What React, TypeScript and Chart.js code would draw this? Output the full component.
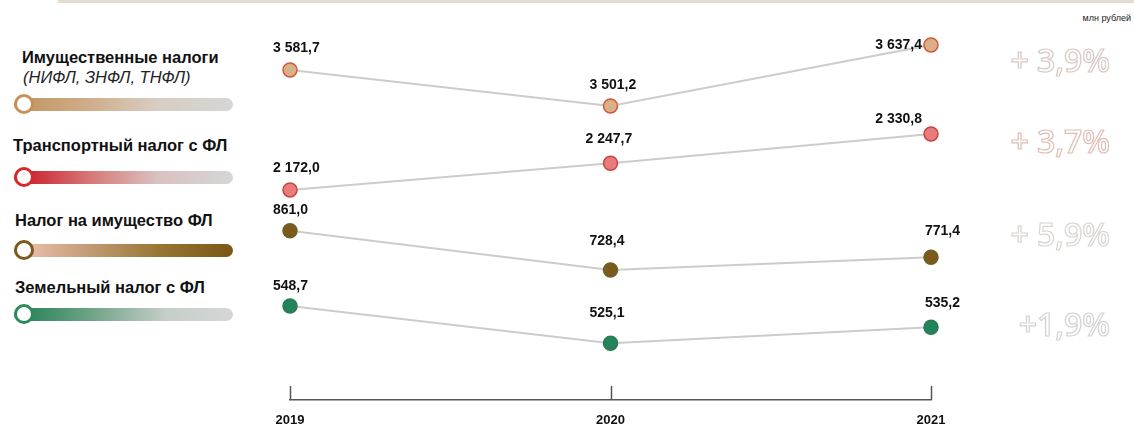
import React, { useEffect, useRef } from 'react';
import { Chart, registerables } from 'chart.js';

Chart.register(...registerables);

// ---------- data ----------
const years = ['2019', '2020', '2021'];
const seriesNames = [
  'Имущественные налоги',
  'Транспортный налог с ФЛ',
  'Налог на имущество ФЛ',
  'Земельный налог с ФЛ',
];
const seriesSubtitle = '(НИФЛ, ЗНФЛ, ТНФЛ)';
const propertyTaxes = [3581.7, 3501.2, 3637.4];
const transportTax = [2172.0, 2247.7, 2330.8];
const personalPropertyTax = [861.0, 728.4, 771.4];
const landTax = [548.7, 525.1, 535.2];
const growthLabels = ['+ 3,9%', '+ 3,7%', '+ 5,9%', '+1,9%'];
const unitLabel = 'млн рублей';

// ---------- styles ----------
const W = 1134;
const H = 427;
const pointFill = ['#d9b189', '#e77b7d', '#7b5a1c', '#23845a'];
const pointBorder = ['#d4573b', '#c9443f', '#6c6226', '#2b7a55'];
// hidden per-series value axes (each series lives in its own band)
const axisRanges = [
  { min: 2844.8, max: 3737.9 },
  { min: 1576.4, max: 2710.8 },
  { min: 289.8, max: 1639.3 },
  { min: 489.2, max: 742.3 },
];
// value-label placement relative to each point
const labelPlacement = [
  [{ dx: -17, dy: -22, a: 'left' }, { dx: -21, dy: -21, a: 'left' }, { dx: -9, dy: 0, a: 'right' }],
  [{ dx: -17, dy: -22, a: 'left' }, { dx: -25, dy: -24, a: 'left' }, { dx: -9, dy: -15, a: 'right' }],
  [{ dx: -17, dy: -21, a: 'left' }, { dx: -21, dy: -29, a: 'left' }, { dx: -6, dy: -26, a: 'left' }],
  [{ dx: -17, dy: -20, a: 'left' }, { dx: -21, dy: -30, a: 'left' }, { dx: -6, dy: -24, a: 'left' }],
];
const legendRows = [
  { textLeft: 22, textY: 58, subY: 78, barY: 104, ring: '#c39259',
    grad: 'linear-gradient(90deg, #c0935e 0%, #cfae8c 35%, #d8cdc2 65%, #d6d6d6 100%)' },
  { textLeft: 13, textY: 146, barY: 177, ring: '#d42a2e',
    grad: 'linear-gradient(90deg, #c8141f 0%, #d77878 35%, #d9c1c0 65%, #d6d6d6 100%)' },
  { textLeft: 15, textY: 221, barY: 250, ring: '#7a5a1e',
    grad: 'linear-gradient(90deg, #f2c4b6 0%, #c9a07c 30%, #9a7636 65%, #7a5716 100%)' },
  { textLeft: 15, textY: 288, barY: 314, ring: '#2d8a5c',
    grad: 'linear-gradient(90deg, #1f7f51 0%, #6fa386 35%, #c6cfca 70%, #d6d6d6 100%)' },
];
const growthStyle = [
  { y: 61, stroke: '#d6c8c2' },
  { y: 142, stroke: '#dfbdb4' },
  { y: 235, stroke: '#d8d4d0' },
  { y: 325, stroke: '#d2d2d2' },
];
const FONT = "Arial, 'Liberation Sans', sans-serif";

const fmt = (v: number) => {
  const [i, d] = v.toFixed(1).split('.');
  return i.replace(/\B(?=(\d{3})+(?!\d))/g, ' ') + ',' + d;
};

const valueLabelPlugin = {
  id: 'valueLabels',
  afterDatasetsDraw(chart: any) {
    const ctx = chart.ctx;
    ctx.save();
    ctx.font = `bold 14px ${FONT}`;
    ctx.fillStyle = '#111';
    ctx.textBaseline = 'middle';
    chart.data.datasets.forEach((ds: any, i: number) => {
      const meta = chart.getDatasetMeta(i);
      meta.data.forEach((el: any, j: number) => {
        const p = labelPlacement[i][j];
        ctx.textAlign = p.a;
        ctx.fillText(fmt(ds.data[j]), el.x + p.dx, el.y + p.dy);
      });
    });
    ctx.restore();
  },
};

const upTicksPlugin = {
  id: 'upTicks',
  afterDraw(chart: any) {
    const xs = chart.scales.x;
    const ctx = chart.ctx;
    ctx.save();
    ctx.strokeStyle = '#555';
    ctx.lineWidth = 1.5;
    xs.ticks.forEach((_: any, i: number) => {
      const px = Math.round(xs.getPixelForTick(i)) + 0.5;
      ctx.beginPath();
      ctx.moveTo(px, xs.top);
      ctx.lineTo(px, xs.top - 14);
      ctx.stroke();
    });
    ctx.restore();
  },
};

function LineChart() {
  const ref = useRef<HTMLCanvasElement | null>(null);
  useEffect(() => {
    if (!ref.current) return;
    const series = [propertyTaxes, transportTax, personalPropertyTax, landTax];
    const yScales: any = {};
    series.forEach((_, i) => {
      yScales['y' + i] = {
        type: 'linear',
        display: false,
        min: axisRanges[i].min,
        max: axisRanges[i].max,
      };
    });
    const chart = new Chart(ref.current, {
      type: 'line',
      data: {
        labels: years,
        datasets: series.map((data, i) => ({
          label: seriesNames[i],
          data,
          yAxisID: 'y' + i,
          borderColor: '#cccccc',
          borderWidth: 2,
          pointRadius: 7,
          pointBorderWidth: 1.5,
          pointBackgroundColor: pointFill[i],
          pointBorderColor: pointBorder[i],
          tension: 0,
          clip: false as any,
        })),
      },
      options: {
        animation: false,
        responsive: false,
        layout: { autoPadding: false, padding: { left: 290, right: 203, top: 0, bottom: 0 } },
        plugins: { legend: { display: false }, tooltip: { enabled: false } },
        scales: {
          x: {
            type: 'category',
            offset: false,
            grid: { display: false, drawTicks: false },
            border: { display: true, color: '#555', width: 1.5 },
            ticks: {
              color: '#111',
              font: { family: FONT, size: 13, weight: 'bold' },
              padding: 13,
              maxRotation: 0,
            },
            afterFit(scale: any) {
              scale.height = 27;
            },
          },
          ...yScales,
        },
      } as any,
      plugins: [valueLabelPlugin, upTicksPlugin],
    });
    return () => chart.destroy();
  }, []);
  return (
    <canvas
      ref={ref}
      width={W}
      height={H}
      style={{ position: 'absolute', left: 0, top: 0, width: W, height: H }}
    />
  );
}

export default function App() {
  return (
    <div
      style={{
        position: 'fixed',
        left: 0,
        top: 0,
        width: W,
        height: H,
        background: '#fff',
        overflow: 'hidden',
        fontFamily: FONT,
      }}
    >
      {/* top rule */}
      <div style={{ position: 'absolute', left: 58, top: 0, width: W - 58, height: 3, background: '#e6dccb' }} />
      <div
        style={{
          position: 'absolute',
          right: 3,
          top: 13,
          fontFamily: "'Liberation Sans Narrow', Arial, sans-serif",
          fontSize: 9,
          lineHeight: '10px',
          color: '#222',
        }}
      >
        {unitLabel}
      </div>

      {/* left legend */}
      {legendRows.map((r, i) => (
        <React.Fragment key={i}>
          <div
            style={{
              position: 'absolute',
              left: r.textLeft,
              top: r.textY - 9,
              fontSize: 16.5,
              lineHeight: '17px',
              fontWeight: 'bold',
              color: '#111',
              whiteSpace: 'nowrap',
            }}
          >
            {seriesNames[i]}
          </div>
          {i === 0 && (
            <div
              style={{
                position: 'absolute',
                left: 23,
                top: (r.subY as number) - 9,
                fontSize: 16.5,
                lineHeight: '17px',
                fontStyle: 'italic',
                color: '#222',
                whiteSpace: 'nowrap',
              }}
            >
              {seriesSubtitle}
            </div>
          )}
          <div
            style={{
              position: 'absolute',
              left: 14,
              top: r.barY - 6.5,
              width: 219,
              height: 13,
              borderRadius: 7,
              background: r.grad,
            }}
          />
          <div
            style={{
              position: 'absolute',
              left: 14,
              top: r.barY - 10,
              width: 14,
              height: 14,
              borderRadius: '50%',
              background: '#fff',
              border: `3px solid ${r.ring}`,
            }}
          />
        </React.Fragment>
      ))}

      <LineChart />

      {/* growth percentages */}
      {growthLabels.map((g, i) => (
        <div
          key={g}
          style={{
            position: 'absolute',
            left: 990,
            width: 120,
            textAlign: 'right',
            top: growthStyle[i].y - 17,
            fontFamily: "'Open Sans', sans-serif",
            fontSize: 32,
            fontWeight: 600,
            lineHeight: '32px',
            color: '#fff',
            WebkitTextStroke: `1.2px ${growthStyle[i].stroke}`,
            whiteSpace: 'nowrap',
          }}
        >
          {g}
        </div>
      ))}
    </div>
  );
}
